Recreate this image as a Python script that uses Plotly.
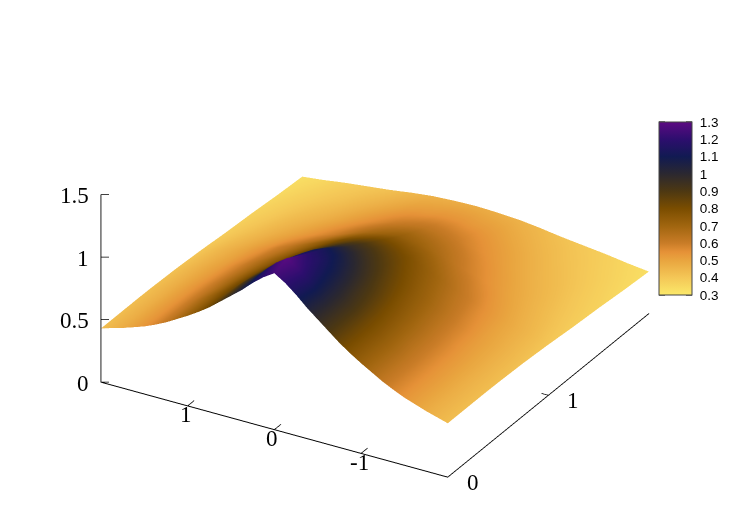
import plotly.graph_objects as go

x_values = [-2, -1.875, -1.75, -1.625, -1.5, -1.375, -1.25, -1.125, -1, -0.875, -0.75, -0.625, -0.5, -0.375, -0.25, -0.125,
            0, 0.125, 0.25, 0.375, 0.5, 0.625, 0.75, 0.875, 1, 1.125, 1.25, 1.375, 1.5, 1.625, 1.75, 1.875, 2]
y_values = [0, 0.125, 0.25, 0.375, 0.5, 0.75, 1, 1.25, 1.5, 1.75, 2]

z_y000 = [.43, .455, .48, .51, .54, .578, .62, .67, .72, .775, .835, .905, .975, 1.045, 1.125, 1.195, 1.25,
          1.195, 1.125, 1.045, .975, .905, .835, .775, .72, .67, .62, .578, .54, .51, .48, .455, .43]
z_y012 = [.43, .455, .48, .51, .54, .578, .62, .67, .72, .775, .835, .905, .98, 1.06, 1.15, 1.23, 1.29,
          1.23, 1.15, 1.06, .98, .905, .835, .775, .72, .67, .62, .578, .54, .51, .48, .455, .43]
z_y025 = [.43, .455, .48, .51, .54, .577, .62, .67, .72, .775, .83, .905, .975, 1.045, 1.115, 1.18, 1.23,
          1.18, 1.115, 1.045, .975, .905, .83, .775, .72, .67, .62, .577, .54, .51, .48, .455, .43]
z_y038 = [.43, .453, .478, .508, .537, .575, .615, .66, .71, .765, .82, .885, .945, 1.02, 1.085, 1.14, 1.17,
          1.14, 1.085, 1.02, .945, .885, .82, .765, .71, .66, .615, .575, .537, .508, .478, .453, .43]
z_y050 = [.428, .452, .477, .505, .535, .57, .61, .655, .70, .75, .80, .86, .915, .98, 1.04, 1.09, 1.12,
          1.09, 1.04, .98, .915, .86, .80, .75, .70, .655, .61, .57, .535, .505, .477, .452, .428]
z_y075 = [.42, .445, .47, .495, .52, .555, .59, .63, .67, .71, .75, .795, .84, .885, .925, .96, .975,
          .96, .925, .885, .84, .795, .75, .71, .67, .63, .59, .555, .52, .495, .47, .445, .42]
z_y100 = [.405, .43, .455, .477, .50, .527, .555, .59, .62, .655, .69, .725, .76, .795, .82, .84, .85,
          .84, .82, .795, .76, .725, .69, .655, .62, .59, .555, .527, .50, .477, .455, .43, .405]
z_y125 = [.385, .405, .425, .445, .465, .485, .505, .527, .55, .575, .60, .63, .66, .685, .705, .72, .73,
          .72, .705, .685, .66, .63, .60, .575, .55, .527, .505, .485, .465, .445, .425, .405, .385]
z_y150 = [.37, .385, .40, .418, .435, .45, .465, .482, .50, .52, .54, .56, .58, .60, .615, .625, .63,
          .625, .615, .60, .58, .56, .54, .52, .50, .482, .465, .45, .435, .418, .40, .385, .37]
z_y175 = [.35, .365, .38, .392, .405, .418, .43, .445, .46, .475, .49, .505, .52, .53, .535, .543, .545,
          .543, .535, .53, .52, .505, .49, .475, .46, .445, .43, .418, .405, .392, .38, .365, .35]
z_y200 = [.335, .345, .355, .368, .38, .39, .40, .41, .42, .432, .445, .455, .465, .47, .475, .478, .48,
          .478, .475, .47, .465, .455, .445, .432, .42, .41, .40, .39, .38, .368, .355, .345, .335]
z_rows = [z_y000, z_y012, z_y025, z_y038, z_y050, z_y075, z_y100, z_y125, z_y150, z_y175, z_y200]

palette_levels = [.3, .4, .5, .55, .6, .7, .8, .9, 1.0, 1.1, 1.2, 1.3]
palette_colors = ["#fbe96a", "#f4c757", "#e9a53f", "#e59137", "#c97c27", "#a0650f", "#7a4d00",
                  "#4d3812", "#2b2830", "#111a52", "#2d0e6e", "#5c0a82"]
colorbar_ticks = [.3, .4, .5, .6, .7, .8, .9, 1, 1.1, 1.2, 1.3]
colorbar_labels = ["0.3", "0.4", "0.5", "0.6", "0.7", "0.8", "0.9", "1", "1.1", "1.2", "1.3"]
x_ticks = [1, 0, -1]
x_labels = ["1", "0", "-1"]
y_ticks = [0, 1]
y_labels = ["0", "1"]
z_ticks = [0, 0.5, 1, 1.5]
z_labels = ["0", "0.5", "1", "1.5"]

zmin, zmax = .3, 1.3
colorscale = [[(v - zmin) / (zmax - zmin), c] for v, c in zip(palette_levels, palette_colors)]

W, H = 750, 525
page_margin = 8  # the browser's default body margin moves the whole figure by this much
bar_left, bar_right, bar_top, bar_bottom = 651, 684, 114, 287


def bar_y(t):
    return 1 - (bar_bottom + (bar_top - bar_bottom) * (t - zmin) / (zmax - zmin)) / H


surface = go.Surface(
    x=x_values, y=y_values, z=z_rows, colorscale=colorscale, cmin=zmin, cmax=zmax,
    lighting=dict(ambient=1, diffuse=0, specular=0, fresnel=0, roughness=1),
    contours=dict(x=dict(highlight=False), y=dict(highlight=False), z=dict(highlight=False)),
    colorbar=dict(
        x=bar_left / W, xanchor="left", y=1 - bar_top / H, yanchor="top",
        thickness=bar_right - bar_left, thicknessmode="pixels",
        len=bar_bottom - bar_top, lenmode="pixels", xpad=0, ypad=0,
        tickmode="array", tickvals=colorbar_ticks, ticktext=colorbar_labels,
        ticks="outside", ticklen=5, tickcolor="rgba(0,0,0,0)", tickwidth=1,
        outlinecolor="#444", outlinewidth=1,
        tickfont=dict(family="Liberation Sans", size=13.5, color="black"),
    ),
    hoverinfo="skip",
)

# The 3D axes only draw ticks away from the box, so the inward ticks are short line traces.
tick_x, tick_y, tick_z = [], [], []
for v in x_ticks:
    tick_x += [v, v, None]
    tick_y += [0, 0.065, None]
    tick_z += [0, 0, None]
for v in y_ticks:
    tick_x += [-2, -1.92, None]
    tick_y += [v, v, None]
    tick_z += [0, 0, None]
for v in z_ticks:
    tick_x += [2, 1.93, None]
    tick_y += [0, 0.02, None]
    tick_z += [v, v, None]
inward_ticks = go.Scatter3d(x=tick_x, y=tick_y, z=tick_z, mode="lines",
                            line=dict(color="black", width=1.5), hoverinfo="skip", showlegend=False)

serif = dict(family="Liberation Serif", size=23, color="black")
axis_common = dict(showbackground=False, showgrid=False, zeroline=False, showspikes=False,
                   showline=True, linecolor="black", linewidth=2, ticks="",
                   showticklabels=False, title="")

annotations = []
for v, t in zip(x_ticks, x_labels):
    annotations.append(dict(x=v, y=0, z=0, text=t, showarrow=False, font=serif, xshift=-2, yshift=-9))
for v, t in zip(y_ticks, y_labels):
    annotations.append(dict(x=-2, y=v, z=0, text=t, showarrow=False, font=serif, xshift=25, yshift=-5))
for v, t in zip(z_ticks, z_labels):
    annotations.append(dict(x=2, y=0, z=v, text=t, showarrow=False, font=serif, xanchor="right",
                            xshift=-10, yshift=-1))

bar_ticks = []
for t in colorbar_ticks:
    bar_ticks.append(dict(type="line", xref="paper", yref="paper", x0=bar_left / W, x1=(bar_left + 6) / W,
                          y0=bar_y(t), y1=bar_y(t), line=dict(color="black", width=1)))
    bar_ticks.append(dict(type="line", xref="paper", yref="paper", x0=(bar_right - 6) / W, x1=bar_right / W,
                          y0=bar_y(t), y1=bar_y(t), line=dict(color="black", width=1)))

fig = go.Figure([surface, inward_ticks])
fig.update_layout(
    width=W, height=H, margin=dict(l=0, r=0, t=0, b=0, autoexpand=False),
    paper_bgcolor="white", showlegend=False,
    scene=dict(
        domain=dict(x=[0, 0.9787], y=[0.0629, 1]),
        aspectmode="manual", aspectratio=dict(x=1.63, y=1.63, z=0.865),
        xaxis=dict(range=[2, -2], tickvals=x_ticks, **axis_common),
        yaxis=dict(range=[0, 2], tickvals=y_ticks, **axis_common),
        zaxis=dict(range=[0, 1.5], tickvals=z_ticks, **axis_common),
        camera=dict(projection=dict(type="orthographic"),
                    eye=dict(x=.885, y=-1.525, z=.944), up=dict(x=0, y=0, z=1),
                    center=dict(x=0, y=0, z=0)),
        annotations=annotations,
    ),
    shapes=bar_ticks,
)
fig.write_html("out.html")
